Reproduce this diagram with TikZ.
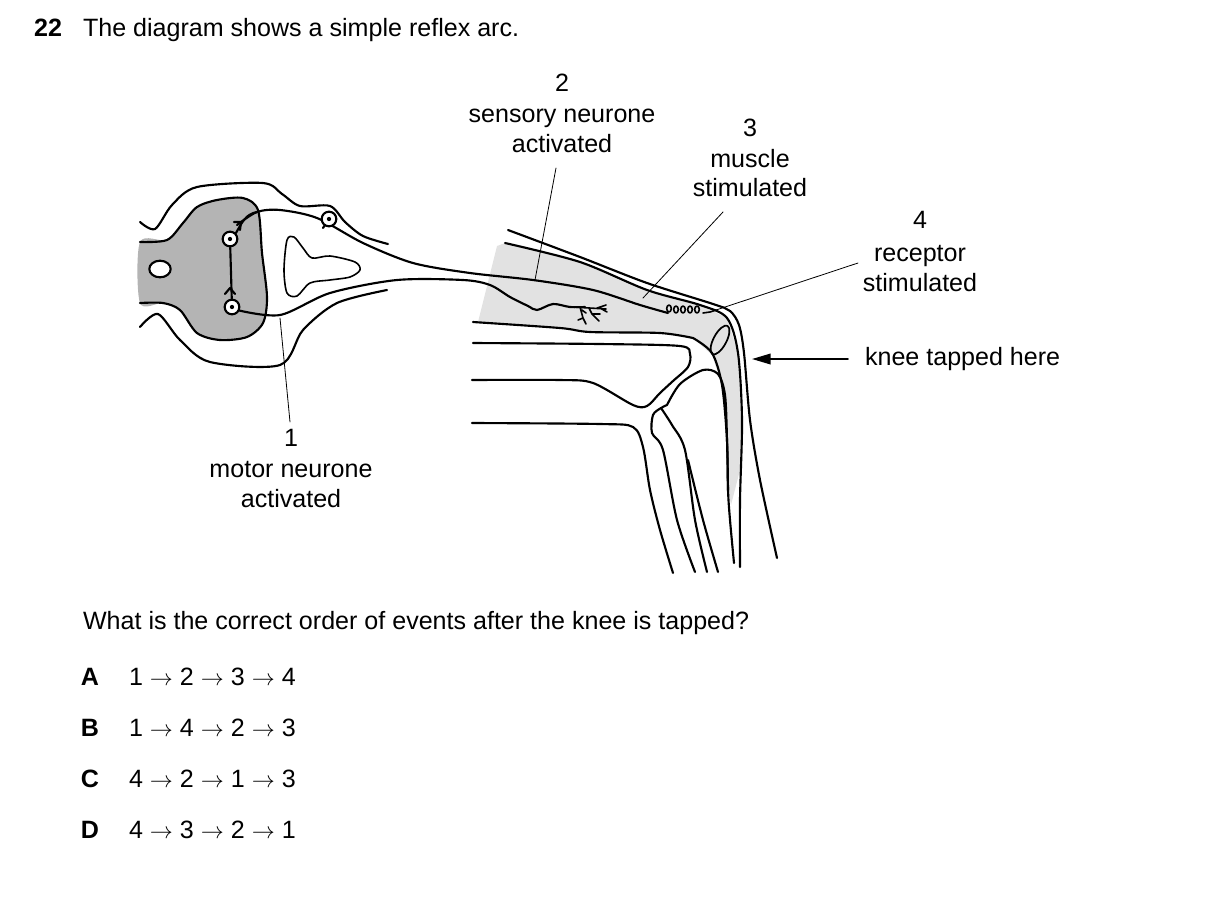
\documentclass[tikz,border=0pt]{standalone}
\usepackage{fontspec}
\setmainfont{Liberation Sans}
\usetikzlibrary{arrows.meta}
\begin{document}
\begin{tikzpicture}[x=0.75pt,y=-0.75pt,
  line width=1.6pt, line join=round, line cap=round,
  txt/.style={font=\fontsize{18.8}{22}\selectfont, inner sep=0pt, text height=13pt, text depth=3.5pt},
  lead/.style={line width=0.6pt},
  cell/.style={circle, draw, line width=1.6pt, fill=white, minimum size=11pt, inner sep=0pt}]
\useasboundingbox (0,0) rectangle (1209,897);
\definecolor{gm}{HTML}{B4B4B4}
\definecolor{kg}{HTML}{E2E2E2}
% texts
\node[txt,anchor=west] (qn) at (33,30) {\textbf{22}};
\node[txt,anchor=west] (q) at (82,30) {The diagram shows a simple reflex arc.};
\node[txt] (t2) at (562,85) {2};
\node[txt] (t2a) at (562,116) {sensory neurone};
\node[txt] (t2b) at (562,146) {activated};
\node[txt] (t3) at (750,130) {3};
\node[txt] (t3a) at (750,161) {muscle};
\node[txt] (t3b) at (750,190) {stimulated};
\node[txt] (t4) at (920,222) {4};
\node[txt] (t4a) at (920,255) {receptor};
\node[txt] (t4b) at (920,285) {stimulated};
\node[txt,anchor=west] (tk) at (864,359) {knee tapped here};
\node[txt] (t1) at (291,440) {1};
\node[txt] (t1a) at (291,471) {motor neurone};
\node[txt] (t1b) at (291,501) {activated};
\node[txt,anchor=west] (qq) at (82,623) {What is the correct order of events after the knee is tapped?};
\foreach \l/\s/\y in {A/{1 $\rightarrow$ 2 $\rightarrow$ 3 $\rightarrow$ 4}/679,B/{1 $\rightarrow$ 4 $\rightarrow$ 2 $\rightarrow$ 3}/730,C/{4 $\rightarrow$ 2 $\rightarrow$ 1 $\rightarrow$ 3}/781,D/{4 $\rightarrow$ 3 $\rightarrow$ 2 $\rightarrow$ 1}/832}{
  \node[txt] (L\l) at (90,\y) {\textbf{\l}};
  \node[txt,anchor=west] (S\l) at (128,\y) {\s};
}
% spinal cord gray matter
\fill[gm] plot[smooth cycle] coordinates {(140,242)(167,240)(183,223)(197,207)(217,200)(243,198)(258,210)(262,253)(267,297)(263,323)(247,337)(220,340)(197,333)(180,310)(163,303)(140,303)};
\draw plot[smooth] coordinates {(140,242)(167,240)(183,223)(197,207)(217,200)(243,198)(258,210)(262,253)(267,297)(263,323)(247,337)(220,340)(197,333)(180,310)(163,303)(140,303)};
\draw[fill=white] (160,269) ellipse (10.7 and 8.3);
% outer outlines
\draw plot[smooth] coordinates {(140,222)(155,229)(172,205)(197,187)(263,183)(282,194)(300,206)(330,206)(345,222)(363,236)(388,244)};
\draw plot[smooth] coordinates {(140,327)(158,314)(180,340)(210,362)(280,365)(303,330)(337,303)(387,290)};
% ganglion blob
\draw[line width=1.2pt] plot[smooth cycle] coordinates {(287,240)(294,237)(303,248)(312,258)(330,256)(355,262)(360,270)(350,277)(330,280)(310,283)(297,296)(287,293)(284,270)};
% knee gray
\fill[kg] (478,322) -- (497,246) -- (505,243) -- (580,262) -- (647,290) -- (700,305) -- (727,318) -- (738,353) -- (742,420) -- (740,470) -- (731,505)
 -- (728,490) -- (727,440) -- (722,385) -- (712,355) -- (693,338) -- (660,333) -- (590,332) -- (560,328) -- cycle;
% sensory neurone
\draw plot[smooth] coordinates {(237,225)(257,212)(280,210)(317,218)(363,243)(413,263)(470,273)(533,280)(593,290)(640,305)(668,313)};
\draw[line width=1.2pt] (669,312) arc (90:450:2.3 and 3.5) (676,313) arc (90:450:2.3 and 3.5) (683,313) arc (90:450:2.3 and 3.5) (690,313) arc (90:450:2.3 and 3.5)
  (697,313) arc (90:450:2.3 and 3.5) (703,313) -- (710,312) -- (716,310);
\draw (323,228) -- (327,222);
\node[cell] (sc) at (329,219) {};
\fill (sc) circle (1.6pt);
% motor neurone
\draw plot[smooth] coordinates {(237,310)(280,315)(330,293)(397,280)(463,280)(490,285)(510,297)(528,306)(537,310)(553,304)(570,307)(585,307)};
\draw[line width=1.2pt] (573,307)--(606,309) (580,307)--(583,318)--(586,324) (589,308)--(592,314)--(599,321) (592,314)--(600,314) (597,308)--(606,305) (600,308)--(607,312) (583,318)--(578,320) (586,313)--(582,310);
% interneurone
\node[cell] (c1) at (230,239) {};
\node[cell] (c2) at (232,307) {};
\fill (c1) circle (1.6pt); \fill (c2) circle (1.6pt);
\draw (c1) -- (c2);
\draw (225,294) -- (230,288) -- (235,294);
\draw (c1.north east) to[out=60,in=190] (257,212);
\draw (234,222) -- (241,222) -- (240,230);
% knee lines
\draw plot[smooth] coordinates {(508,230)(580,257)(647,283)(713,304)(730,311)(739,325)(744,353)(750,420)(760,480)(777,558)};
\draw plot[smooth] coordinates {(505,243)(580,262)(647,290)(700,305)(727,318)(738,353)(742,420)(740,500)(740,567)};
\draw plot[smooth] coordinates {(693,338)(712,353)(722,385)(727,440)(728,490)(730,520)(734,563)};
\draw plot[smooth] coordinates {(473,322)(560,328)(590,332)(660,333)(693,338)};
\draw[line width=1.3pt, rotate around={-28:(720,340)}] (720,340) ellipse (6.5 and 16);
% femur
\draw plot[smooth] coordinates {(473,343)(600,344)(680,346)(690,354)(688,367)(673,381)(660,393)(647,406)(633,405)(593,383)(560,380)(472,380)};
% tibia
\draw plot[smooth] coordinates {(667,405)(680,384)(703,370)(718,374)(725,395)(727,440)(728,490)};
% fibula-ish
\draw plot[smooth] coordinates {(667,405)(661,408)(653,415)(652,433)(663,450)(677,520)(695,572)};
\draw plot[smooth] coordinates {(661,408)(672,425)(685,450)(695,520)(707,572)};
\draw plot[smooth] coordinates {(688,460)(703,520)(718,572)};
% shin back
\draw plot[smooth] coordinates {(472,423)(600,424)(633,427)(643,447)(650,490)(660,530)(673,573)};
% leaders
\draw[lead] (556,168) -- (535,280);
\draw[lead] (723,212) -- (643,298);
\draw[lead] (858,263) -- (713,311);
\draw[lead] (290,422) -- (280,318);
\draw[line width=1.2pt,-{Triangle[length=14pt,width=8pt]}] (848,359) -- (752,359);
\end{tikzpicture}
\end{document}
